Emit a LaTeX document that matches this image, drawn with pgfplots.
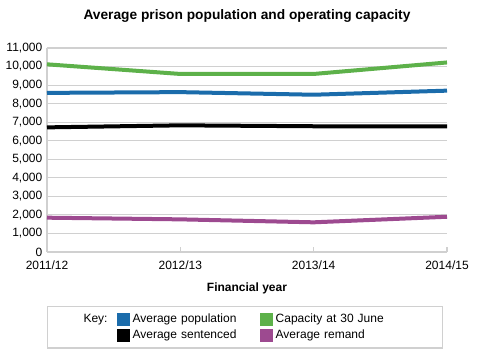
\documentclass[border=0pt]{standalone}
\usepackage{pgfplots}
\pgfplotsset{compat=1.18}
\usepackage{fontspec}
\setmainfont{Liberation Sans}
\definecolor{cblue}{HTML}{1B6CAB}
\definecolor{cgreen}{HTML}{5DB14A}
\definecolor{cpurple}{HTML}{9D4A90}
\definecolor{cgrid}{HTML}{D0D0D0}
\pgfplotsset{
  sq/.style={legend image code/.code={\fill[##1] (0pt,-4.5pt) rectangle (9pt,4.5pt);}},
}
\begin{document}
\begin{tikzpicture}
\begin{axis}[
  scale only axis, width=300pt, height=153pt,
  xmin=0, xmax=3, ymin=0, ymax=11000,
  xtick={0,1,2,3},
  xticklabels={2011/12,2012/13,2013/14,2014/15},
  ytick={0,1000,...,11000},
  scaled y ticks=false,
  axis x line*=bottom, axis y line*=left,
  axis line style={cgrid, line width=0.8pt, -},
  ymajorgrids, grid style={cgrid, line width=0.8pt},
  tick align=inside, major tick length=4pt,
  ytick style={draw=none},
  xtick style={cgrid, line width=0.8pt},
  tick label style={font=\fontsize{9}{11}\selectfont},
  xticklabel style={yshift=-3pt},
  /pgf/number format/1000 sep={,},
  /pgf/number format/assume math mode=true,
  xlabel={\bfseries Financial year},
  xlabel style={font=\fontsize{9}{11}\selectfont, at={(0.5,-0.1765)}, anchor=center},
  title={\bfseries Average prison population and operating capacity},
  title style={font=\fontsize{10.3}{12}\selectfont, at={(0.5,1)}, anchor=center, yshift=18pt},
  legend columns=3,
  legend cell align=left,
  legend style={at={(0,-0.265)}, anchor=north west, draw=cgrid, line width=0.8pt,
    font=\fontsize{9}{11}\selectfont, inner xsep=25pt, inner ysep=3.5pt,
    /tikz/every even column/.append style={column sep=5pt}},
]
\addlegendimage{empty legend}\addlegendentry{Key:}
\addlegendimage{sq, cblue}\addlegendentry[text width=88.5pt]{Average population}
\addlegendimage{sq, cgreen}\addlegendentry[text width=98pt]{Capacity at 30 June}
\addlegendimage{empty legend}\addlegendentry{}
\addlegendimage{sq, black}\addlegendentry[text width=88.5pt]{Average sentenced}
\addlegendimage{sq, cpurple}\addlegendentry[text width=98pt]{Average remand}
\addplot[forget plot, cgreen, line width=3pt] coordinates {(0,10120) (1,9600) (2,9600) (3,10220)};
\addplot[forget plot, cblue, line width=3pt] coordinates {(0,8580) (1,8620) (2,8480) (3,8700)};
\addplot[forget plot, black, line width=3pt] coordinates {(0,6720) (1,6830) (2,6780) (3,6780)};
\addplot[forget plot, cpurple, line width=3pt] coordinates {(0,1850) (1,1760) (2,1600) (3,1900)};
\end{axis}
\pgfresetboundingbox
\useasboundingbox (-35.25pt,-75pt) rectangle (323.25pt,189pt);
\end{tikzpicture}
\end{document}
